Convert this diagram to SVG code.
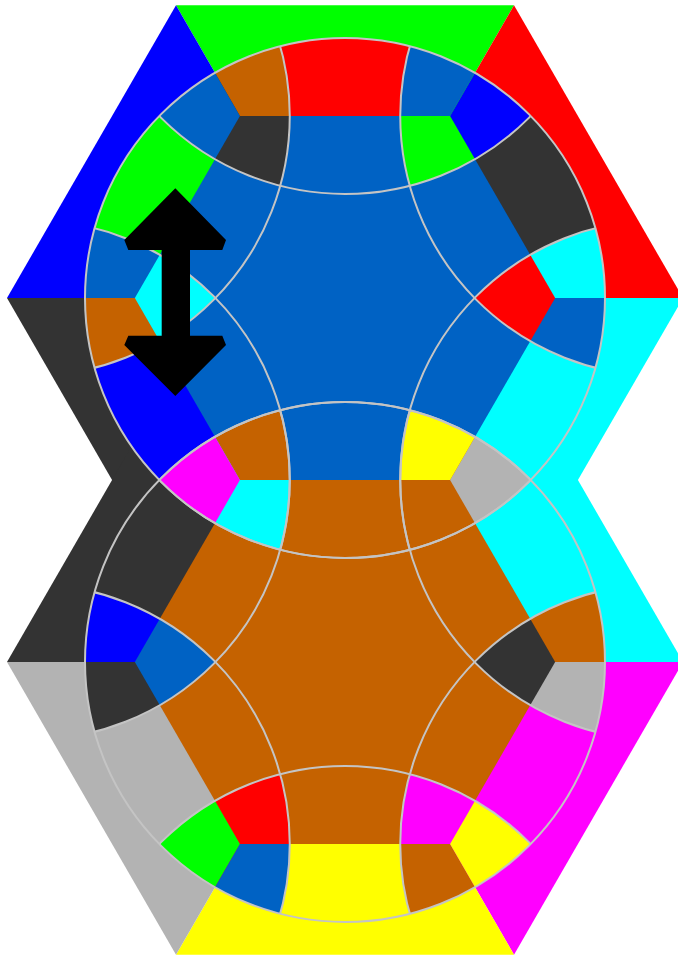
<svg xmlns="http://www.w3.org/2000/svg" width="678" height="955" viewBox="0 0 678 955">
<style>
.G{fill:#00ff00}.R{fill:#ff0000}.B{fill:#0000ff}.C{fill:#00ffff}.M{fill:#ff00ff}.Y{fill:#ffff00}.K{fill:#333333}.A{fill:#b3b3b3}.U{fill:#0062c4}.O{fill:#c56200}
.ln{fill:none;stroke:#c4c4c4;stroke-width:2}
</style>
<defs>
  <circle id="m" cx="345" cy="298" r="260"/>
  <rect id="bg" x="0" y="0" width="678" height="600"/>
  <clipPath id="cm"><circle cx="345" cy="298" r="260"/></clipPath>
  <clipPath id="l90"><path d="M159.32,116A260,260 0 0 1 530.68,116A260,260 0 0 1 159.32,116Z"/></clipPath>
  <clipPath id="l30"><path d="M409.78,46.19A260,260 0 0 1 595.46,367.81A260,260 0 0 1 409.78,46.19Z"/></clipPath>
  <clipPath id="l330"><path d="M595.46,228.19A260,260 0 0 1 409.78,549.81A260,260 0 0 1 595.46,228.19Z"/></clipPath>
  <clipPath id="l270"><path d="M530.68,480A260,260 0 0 1 159.32,480A260,260 0 0 1 530.68,480Z"/></clipPath>
  <clipPath id="l210"><path d="M280.22,549.81A260,260 0 0 1 94.54,228.19A260,260 0 0 1 280.22,549.81Z"/></clipPath>
  <clipPath id="l150"><path d="M94.54,367.81A260,260 0 0 1 280.22,46.19A260,260 0 0 1 94.54,367.81Z"/></clipPath>
  <clipPath id="x0"><path d="M595.46,228.19A260,260 0 0 1 595.46,367.81A260,260 0 0 1 474.55,298A260,260 0 0 1 595.46,228.19Z"/></clipPath>
  <clipPath id="x60"><path d="M409.78,46.19A260,260 0 0 1 530.68,116A260,260 0 0 1 409.78,185.81A260,260 0 0 1 409.78,46.19Z"/></clipPath>
  <clipPath id="x120"><path d="M159.32,116A260,260 0 0 1 280.22,46.19A260,260 0 0 1 280.22,185.81A260,260 0 0 1 159.32,116Z"/></clipPath>
  <clipPath id="x180"><path d="M94.54,367.81A260,260 0 0 1 94.54,228.19A260,260 0 0 1 215.45,298A260,260 0 0 1 94.54,367.81Z"/></clipPath>
  <clipPath id="x240"><path d="M280.22,549.81A260,260 0 0 1 159.32,480A260,260 0 0 1 280.22,410.19A260,260 0 0 1 280.22,549.81Z"/></clipPath>
  <clipPath id="x300"><path d="M530.68,480A260,260 0 0 1 409.78,549.81A260,260 0 0 1 409.78,410.19A260,260 0 0 1 530.68,480Z"/></clipPath>
  <polygon id="t90" points="450.08,116 514,5.29 176,5.29 239.92,116"/>
  <polygon id="t30" points="555.16,298 683,298 514,5.29 450.08,116"/>
  <polygon id="t330" points="450.08,480 514,590.71 683,298 555.16,298"/>
  <polygon id="t270" points="239.92,480 176,590.71 514,590.71 450.08,480"/>
  <polygon id="t210" points="134.84,298 7,298 176,590.71 239.92,480"/>
  <polygon id="t150" points="239.92,116 176,5.29 7,298 134.84,298"/>
  <polygon id="s90" points="345,298 514,5.29 176,5.29"/>
  <polygon id="s30" points="345,298 683,298 514,5.29"/>
  <polygon id="s330" points="345,298 514,590.71 683,298"/>
  <polygon id="s270" points="345,298 176,590.71 514,590.71"/>
  <polygon id="s210" points="345,298 7,298 176,590.71"/>
  <polygon id="s150" points="345,298 176,5.29 7,298"/>
  <g id="lines">
    <g clip-path="url(#cm)">
      <circle class="ln" cx="345" cy="-66" r="260"/>
      <circle class="ln" cx="29.77" cy="116" r="260"/>
      <circle class="ln" cx="29.77" cy="480" r="260"/>
      <circle class="ln" cx="345" cy="662" r="260"/>
      <circle class="ln" cx="660.23" cy="480" r="260"/>
      <circle class="ln" cx="660.23" cy="116" r="260"/>
    </g>
    <circle class="ln" cx="345" cy="298" r="260"/>
  </g>
</defs>

<g id="upper-hexagon">
  <use href="#s90" class="G"/>
  <use href="#s30" class="R"/>
  <use href="#s330" class="C"/>
  <use href="#s210" class="K"/>
  <use href="#s150" class="B"/>
</g>
<g id="lower-hexagon" transform="translate(0,364)">
  <use href="#s30" class="C"/>
  <use href="#s330" class="M"/>
  <use href="#s270" class="Y"/>
  <use href="#s210" class="A"/>
  <use href="#s150" class="K"/>
</g>

<g id="upper-circle">
  <use href="#m" class="U"/>
  <g clip-path="url(#l90)"><use href="#t90" class="R"/></g>
  <g clip-path="url(#l30)"><use href="#t30" class="K"/></g>
  <g clip-path="url(#l330)"><use href="#t330" class="C"/></g>
  <g clip-path="url(#l270)"><use href="#t270" class="O"/></g>
  <g clip-path="url(#l210)"><use href="#t210" class="B"/></g>
  <g clip-path="url(#l150)"><use href="#t150" class="G"/></g>
  <g clip-path="url(#x0)"><use href="#bg" class="R"/><use href="#t330" class="U"/><use href="#t30" class="C"/></g>
  <g clip-path="url(#x60)"><use href="#bg" class="G"/><use href="#t30" class="B"/><use href="#t90" class="U"/></g>
  <g clip-path="url(#x120)"><use href="#bg" class="K"/><use href="#t90" class="O"/><use href="#t150" class="U"/></g>
  <g clip-path="url(#x180)"><use href="#bg" class="C"/><use href="#t150" class="U"/><use href="#t210" class="O"/></g>
  <g clip-path="url(#x240)"><use href="#bg" class="O"/><use href="#t210" class="M"/><use href="#t270" class="C"/></g>
  <g clip-path="url(#x300)"><use href="#bg" class="Y"/><use href="#t270" class="O"/><use href="#t330" class="A"/></g>
</g>

<g id="lower-circle" transform="translate(0,364)">
  <use href="#m" class="O"/>
  <g clip-path="url(#l90)"><use href="#t90" class="U"/></g>
  <g clip-path="url(#l30)"><use href="#t30" class="C"/></g>
  <g clip-path="url(#l330)"><use href="#t330" class="M"/></g>
  <g clip-path="url(#l270)"><use href="#t270" class="Y"/></g>
  <g clip-path="url(#l210)"><use href="#t210" class="A"/></g>
  <g clip-path="url(#l150)"><use href="#t150" class="K"/></g>
  <g clip-path="url(#x0)"><use href="#bg" class="K"/><use href="#t330" class="A"/><use href="#t30" class="O"/></g>
  <g clip-path="url(#x60)"><use href="#bg" class="O"/><use href="#t30" class="A"/><use href="#t90" class="Y"/></g>
  <g clip-path="url(#x120)"><use href="#bg" class="C"/><use href="#t90" class="O"/><use href="#t150" class="M"/></g>
  <g clip-path="url(#x180)"><use href="#bg" class="U"/><use href="#t150" class="B"/><use href="#t210" class="K"/></g>
  <g clip-path="url(#x240)"><use href="#bg" class="R"/><use href="#t210" class="G"/><use href="#t270" class="U"/></g>
  <g clip-path="url(#x300)"><use href="#bg" class="M"/><use href="#t270" class="O"/><use href="#t330" class="Y"/></g>
</g>

<g id="circle-lines">
  <use href="#lines"/>
  <use href="#lines" transform="translate(0,364)"/>
</g>

<g id="arrow">
  <polygon fill="#000000" points="175.3,188.3 226,240 222.3,250 190,250 190,335.7 222.3,335.7 226,345 175.3,396 124.3,345 128.3,335.7 161.7,335.7 161.7,250 128.3,250 124.3,240"/>
</g>
</svg>
